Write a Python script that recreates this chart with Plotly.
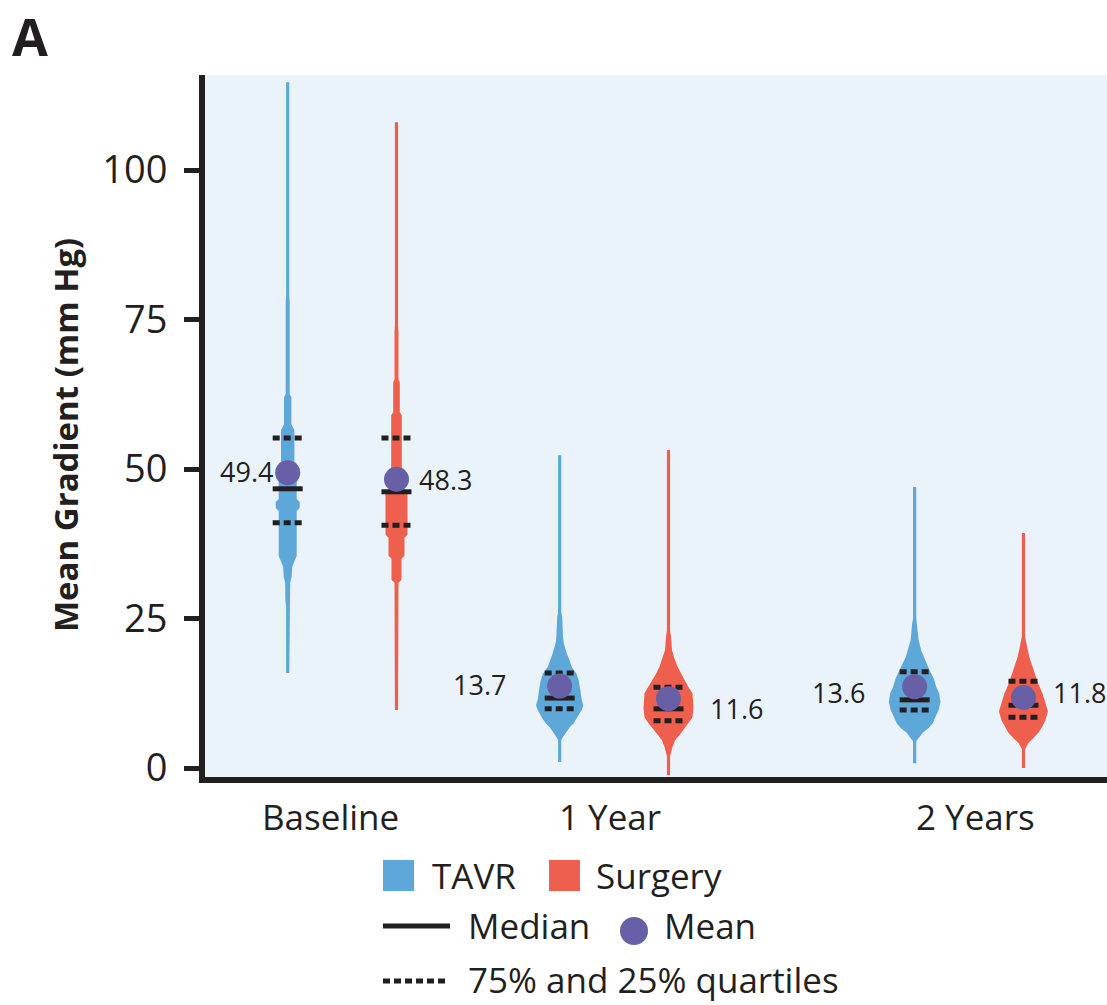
import plotly.graph_objects as go

# ---------------- data ----------------
GROUPS = ["Baseline", "1 Year", "2 Years"]
ARMS = ["TAVR", "Surgery"]

MEAN_TAVR = [49.4, 13.7, 13.6]
MEAN_SURG = [48.3, 11.6, 11.8]
MEDIAN_TAVR = [46.7, 11.7, 11.4]
MEDIAN_SURG = [46.2, 9.9, 10.5]
Q1_TAVR = [41.0, 9.9, 9.7]
Q3_TAVR = [55.2, 15.9, 16.1]
Q1_SURG = [40.6, 7.9, 8.5]
Q3_SURG = [55.2, 13.5, 14.5]

# violin density profiles (gradient level, relative density)
TAVR_BASE_Y = [15.9, 27, 28, 31, 32, 33.6, 34.5, 35.5, 43, 43.5, 44.5, 45, 50, 50.5, 56.5, 57.5, 62, 62.5, 78, 79, 114.7]
TAVR_BASE_D = [1.6, 1.6, 2.3, 2.5, 4, 4.5, 6.7, 9, 9, 12, 12, 9, 9, 6.7, 6.7, 3.7, 3.7, 2, 2, 1.6, 1.6]
SURG_BASE_Y = [9.7, 27, 28, 31, 31.5, 35, 35.5, 38.5, 39, 46, 47, 50, 59, 59.5, 64.5, 65, 73, 74, 108]
SURG_BASE_D = [1.6, 1.6, 2, 2, 5, 5, 8, 8, 11, 11, 6, 5.3, 5.3, 3.3, 3.3, 2, 2, 1.6, 1.6]
TAVR_1Y_Y = [1.0, 4.7, 5.2, 5.9, 6.8, 7.5, 8.5, 9.7, 10.5, 11.4, 13, 14.7, 15.8, 16.9, 18, 19.2, 20.9, 22, 25.3, 26, 52.3]
TAVR_1Y_D = [1.6, 1.6, 3.3, 6, 10, 14, 18, 22, 23.7, 22, 20.7, 19, 16.7, 12, 10, 7, 4, 3.3, 2.5, 1.6, 1.6]
SURG_1Y_Y = [-1.2, 2, 3.5, 4.7, 5.5, 6.4, 7.5, 8.5, 10, 12.5, 13.5, 14.7, 15.9, 17, 18.1, 19.7, 21.9, 23, 53.2]
SURG_1Y_D = [1.6, 1.6, 4, 6.7, 11, 15, 20, 24, 25, 24, 20, 16, 12, 9, 6.3, 3.5, 2.5, 1.6, 1.6]
TAVR_2Y_Y = [0.8, 4.5, 5, 5.9, 6.7, 7.5, 8.6, 9.7, 11, 12.5, 13.5, 15, 16.3, 17.5, 18.5, 19.7, 21.4, 24.2, 25, 47]
TAVR_2Y_D = [1.6, 1.6, 4, 8, 14, 18, 21, 24, 25.8, 24.5, 21.7, 19, 15, 12, 9, 6.5, 4, 2.5, 1.6, 1.6]
SURG_2Y_Y = [0, 3.2, 4.2, 5, 5.9, 7, 8, 9.5, 11, 12.5, 14, 15.5, 17, 18.5, 20, 21, 22, 39.3]
SURG_2Y_D = [1.6, 1.6, 5, 10, 15, 19, 22, 24.5, 22, 19, 15, 12, 9, 6, 4, 2.5, 1.6, 1.6]

Y_TICKS = [0, 25, 50, 75, 100]

# ---------------- layout constants ----------------
W, H = 1107, 1005
PL, PR, PT, PB = 205, 1107, 75, 777
PX_PER_UNIT = 272.0
GROUP_POS = [0.0, 1.0, 2.305]
ARM_OFF = {"TAVR": -0.2, "Surgery": 0.2}
X_RANGE = [-0.504, -0.504 + (PR - PL) / PX_PER_UNIT]
Y_RANGE = [-1.5, 115.9]
LABEL_X = [-0.044, 0.985, 2.327]

BLUE = "#5ea8d9"
RED = "#ef5f4d"
PURPLE = "#6860a6"
BG = "#ebf3fa"
INK = "#231f20"
FONT = "Open Sans"

HALF_LINE = 15 / PX_PER_UNIT  # half-length of median/quartile marks


def pxx(px):
    return (px - PL) / (PR - PL)


def pxy(py):
    return (PB - py) / (PB - PT)


profiles = {
    "TAVR": [(TAVR_BASE_Y, TAVR_BASE_D), (TAVR_1Y_Y, TAVR_1Y_D), (TAVR_2Y_Y, TAVR_2Y_D)],
    "Surgery": [(SURG_BASE_Y, SURG_BASE_D), (SURG_1Y_Y, SURG_1Y_D), (SURG_2Y_Y, SURG_2Y_D)],
}
stats = {
    "TAVR": dict(mean=MEAN_TAVR, med=MEDIAN_TAVR, q1=Q1_TAVR, q3=Q3_TAVR, color=BLUE),
    "Surgery": dict(mean=MEAN_SURG, med=MEDIAN_SURG, q1=Q1_SURG, q3=Q3_SURG, color=RED),
}

fig = go.Figure()

# violins
for arm in ARMS:
    for gi, (ys, ds) in enumerate(profiles[arm]):
        c = GROUP_POS[gi] + ARM_OFF[arm]
        xr = [c + d / PX_PER_UNIT for d in ds]
        xl = [c - d / PX_PER_UNIT for d in ds]
        fig.add_trace(go.Scatter(
            x=xr + xl[::-1], y=list(ys) + list(ys)[::-1],
            mode="lines", fill="toself", fillcolor=stats[arm]["color"],
            line=dict(width=0, color=stats[arm]["color"]),
            hoverinfo="skip", showlegend=False))

# quartiles and medians
for arm in ARMS:
    s = stats[arm]
    mx, my, qx, qy = [], [], [], []
    for gi in range(len(GROUPS)):
        c = GROUP_POS[gi] + ARM_OFF[arm]
        mx += [c - HALF_LINE, c + HALF_LINE, None]
        my += [s["med"][gi], s["med"][gi], None]
        for q in (s["q1"][gi], s["q3"][gi]):
            qx += [c - HALF_LINE, c + HALF_LINE, None]
            qy += [q, q, None]
    fig.add_trace(go.Scatter(x=mx, y=my, mode="lines", line=dict(color=INK, width=5),
                             hoverinfo="skip", showlegend=False))
    fig.add_trace(go.Scatter(x=qx, y=qy, mode="lines",
                             line=dict(color=INK, width=5, dash="7px,4px"),
                             hoverinfo="skip", showlegend=False))

# means
for arm in ARMS:
    s = stats[arm]
    fig.add_trace(go.Scatter(
        x=[GROUP_POS[gi] + ARM_OFF[arm] for gi in range(len(GROUPS))],
        y=s["mean"], mode="markers",
        marker=dict(color=PURPLE, size=25, line=dict(width=0)),
        hoverinfo="skip", showlegend=False))

annotations = []
# mean value labels: (arm, group, xshift px, yshift px, anchor)
LABEL_STYLE = [
    ("TAVR", 0, -13, 1, "right"), ("Surgery", 0, 21, 0, "left"),
    ("TAVR", 1, -52, 2, "right"), ("Surgery", 1, 40, -10, "left"),
    ("TAVR", 2, -48, -6, "right"), ("Surgery", 2, 28, 5, "left"),
]
for arm, gi, xs, ys_, anc in LABEL_STYLE:
    v = stats[arm]["mean"][gi]
    annotations.append(dict(
        x=GROUP_POS[gi] + ARM_OFF[arm], y=v, xref="x", yref="y",
        text=f"{v:.1f}", showarrow=False, xanchor=anc, yanchor="middle",
        xshift=xs, yshift=ys_, font=dict(family=FONT, size=27, color=INK)))

# category labels
for gi, g in enumerate(GROUPS):
    annotations.append(dict(
        x=LABEL_X[gi], y=pxy(816), xref="x", yref="paper", text=g, showarrow=False,
        xanchor="center", yanchor="middle", font=dict(family=FONT, size=35, color=INK)))

# y title
annotations.append(dict(
    x=pxx(66), y=pxy(435), xref="paper", yref="paper", text="<b>Mean Gradient (mm Hg)</b>",
    textangle=-90, showarrow=False, xanchor="center", yanchor="middle",
    font=dict(family=FONT, size=33, color=INK)))

# panel letter
annotations.append(dict(
    x=pxx(10), y=pxy(36), xref="paper", yref="paper", text="<b>A</b>", showarrow=False,
    xanchor="left", yanchor="middle", font=dict(family=FONT, size=52, color=INK)))

# legend
shapes = []
shapes.append(dict(type="rect", xref="paper", yref="paper", x0=pxx(383), x1=pxx(414),
                   y0=pxy(891), y1=pxy(860), fillcolor=BLUE, line=dict(width=0)))
shapes.append(dict(type="rect", xref="paper", yref="paper", x0=pxx(549), x1=pxx(580),
                   y0=pxy(891), y1=pxy(860), fillcolor=RED, line=dict(width=0)))
shapes.append(dict(type="line", xref="paper", yref="paper", x0=pxx(383), x1=pxx(450),
                   y0=pxy(926), y1=pxy(926), line=dict(color=INK, width=5)))
shapes.append(dict(type="circle", xref="paper", yref="paper", x0=pxx(620), x1=pxx(648),
                   y0=pxy(945), y1=pxy(917), fillcolor=PURPLE, line=dict(width=0)))
shapes.append(dict(type="line", xref="paper", yref="paper", x0=pxx(383), x1=pxx(448),
                   y0=pxy(981), y1=pxy(981), line=dict(color=INK, width=5, dash="7px,4px")))

LEGEND_TEXT = [("TAVR", 430, 875, 35), ("Surgery", 594, 875, 35), ("Median", 466, 925, 35),
               ("Mean", 662, 925, 35), ("75% and 25% quartiles", 466, 979, 35)]
for t, lx, ly, fs in LEGEND_TEXT:
    annotations.append(dict(
        x=pxx(lx), y=pxy(ly), xref="paper", yref="paper", text=t, showarrow=False,
        xanchor="left", yanchor="middle", font=dict(family=FONT, size=fs, color=INK)))

fig.update_layout(
    width=W, height=H,
    margin=dict(l=PL, r=W - PR, t=PT, b=H - PB, pad=0),
    paper_bgcolor="white", plot_bgcolor=BG,
    showlegend=False,
    annotations=annotations, shapes=shapes,
    xaxis=dict(range=X_RANGE, showgrid=False, zeroline=False, showticklabels=False,
               ticks="", showline=True, linecolor=INK, linewidth=6, fixedrange=True),
    yaxis=dict(range=Y_RANGE, showgrid=False, zeroline=False, tickvals=Y_TICKS,
               ticks="outside", ticklen=15, tickwidth=5, tickcolor=INK,
               showline=True, linecolor=INK, linewidth=6,
               tickfont=dict(family=FONT, size=38, color=INK),
               ticklabelstandoff=9, fixedrange=True),
)

fig.write_html("out.html")
